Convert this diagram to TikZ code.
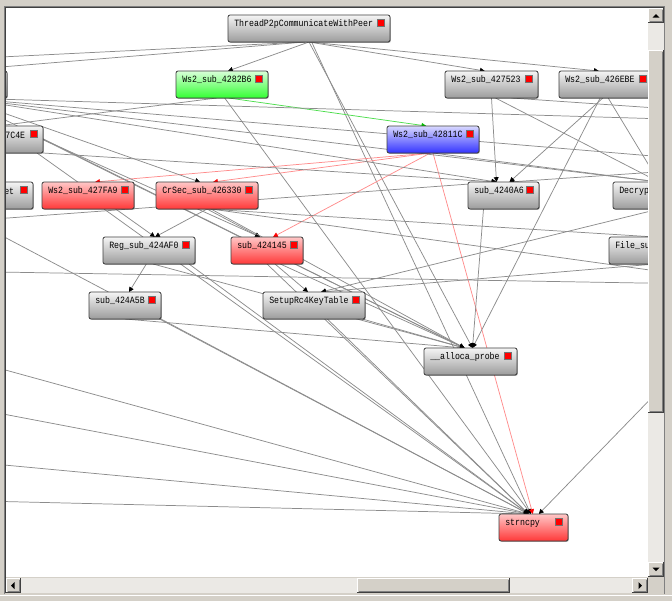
\documentclass[tikz,border=0pt]{standalone}
\usepackage{fontspec}
\newfontfamily\graphfont{Liberation Mono}[FakeStretch=0.86]
\usetikzlibrary{positioning, arrows.meta, calc, shadows}
\definecolor{winface}{HTML}{D4D0C8}
\definecolor{wintrack}{HTML}{EBE9E5}
\definecolor{winshade}{HTML}{808080}
\definecolor{windark}{HTML}{404040}
\definecolor{edgegray}{HTML}{8C8C8C}
\definecolor{edgered}{HTML}{FF8C8C}
\definecolor{edgegreen}{HTML}{4CDD4C}
\definecolor{boxline}{HTML}{404040}

\pgfdeclarelayer{chrome}
\pgfdeclarelayer{edges}
\pgfsetlayers{chrome,edges,main}

\tikzset{
  funcbox/.style={draw=boxline, line width=0.6pt, rounded corners=1.6pt,
    minimum height=20.25pt, inner sep=0pt, outer sep=0pt, anchor=north west,
    drop shadow={shadow xshift=0.6pt, shadow yshift=-0.6pt, fill=black, opacity=0.35}},
  graybox/.style={top color=gray!8, bottom color=gray!78},
  redbox/.style={top color=red!22, bottom color=red!78},
  greenbox/.style={top color=green!15, bottom color=green!80},
  bluebox/.style={top color=blue!15, bottom color=blue!80},
  functext/.style={font=\graphfont\fontsize{7.2}{8}\selectfont, inner sep=0pt, anchor=west},
  redmark/.style={draw=black!55, line width=0.45pt, fill=red, minimum size=5.2pt,
    inner sep=0pt, anchor=north east},
  call/.style={draw=edgegray, line width=0.55pt,
    -{Triangle[width=3.6pt,length=3.6pt,color=black]}},
  redcall/.style={call, draw=edgered, -{Triangle[width=3.6pt,length=3.6pt,color=red]}},
  greencall/.style={call, draw=edgegreen,
    -{Triangle[width=3.6pt,length=3.6pt,color=green!75!black]}},
}

% one function box: name, fill, x, y (top left, px), width (px), label
\newcommand{\funcnode}[6]{%
  \node[funcbox, #2, minimum width=#5*0.75pt] (#1) at (#3,#4) {};
  \node[functext] (#1-txt) at ($(#1.north west)+(6,9)$) {#6};
  \node[redmark] (#1-sq) at ($(#1.north east)+(-5,4)$) {};
}

% raised windows button face
\newcommand{\bevelbox}[4]{%
  \fill[winface] (#1,#2) rectangle (#3,#4);
  \draw[white, line width=0.75pt] (#1+0.5,#4-1) -- (#1+0.5,#2+0.5) -- (#3-1,#2+0.5);
  \draw[windark, line width=0.75pt] (#1,#4-0.5) -- (#3-0.5,#4-0.5) -- (#3-0.5,#2);
  \draw[winshade, line width=0.75pt] (#1+1.5,#4-1.5) -- (#3-1.5,#4-1.5) -- (#3-1.5,#2+1.5);
}

\begin{document}
\begin{tikzpicture}[x=0.75pt, y=-0.75pt]
\useasboundingbox (0,0) rectangle (672,601);

\begin{pgfonlayer}{chrome}
  \fill[winface] (0,0) rectangle (672,601);
  \fill[white] (5,7) rectangle (648,577);
\end{pgfonlayer}

% ---- function boxes
\begin{scope}
  \clip (6,8) rectangle (648,577);
  \funcnode{T}{graybox}{228}{15}{162}{ThreadP2pCommunicateWithPeer}
  \funcnode{LT}{graybox}{-85}{71}{92}{}
  \funcnode{G}{greenbox}{176}{71}{92}{Ws2\_sub\_4282B6}
  \funcnode{W523}{graybox}{445}{71}{93}{Ws2\_sub\_427523}
  \funcnode{WEBE}{graybox}{559}{71}{93}{Ws2\_sub\_426EBE}
  \funcnode{C4E}{graybox}{-49}{126}{92}{}
  \node[functext, anchor=east] (C4E-lbl) at ($(C4E-sq.west)+(-5,1.5)$) {7C4E};
  \funcnode{B}{bluebox}{387}{126}{92}{Ws2\_sub\_42811C}
  \funcnode{ET}{graybox}{-59}{182}{92}{}
  \node[functext, anchor=east] (ET-lbl) at ($(ET-sq.west)+(-6,1.5)$) {et};
  \funcnode{FA9}{redbox}{42}{182}{92}{Ws2\_sub\_427FA9}
  \funcnode{CS}{redbox}{156}{182}{102}{CrSec\_sub\_426330}
  \funcnode{A6}{graybox}{468}{182}{71}{sub\_4240A6}
  \funcnode{DEC}{graybox}{613}{182}{92}{Decryp}
  \funcnode{AF0}{graybox}{103}{237}{92}{Reg\_sub\_424AF0}
  \funcnode{S145}{redbox}{231}{237}{72}{sub\_424145}
  \funcnode{FIL}{graybox}{609}{237}{92}{File\_su}
  \funcnode{A5B}{graybox}{89}{292}{72}{sub\_424A5B}
  \funcnode{RC4}{graybox}{263}{292}{102}{SetupRc4KeyTable}
  \funcnode{AP}{graybox}{424}{348}{93}{\_\_alloca\_probe}
  \funcnode{SN}{redbox}{499}{514}{69}{strncpy}
\end{scope}

% ends of calls to boxes scrolled out of view
\coordinate (l1) at (-60,60);
\coordinate (l2) at (-60,72);
\coordinate (l3) at (-60,203);
\coordinate (l4) at (-60,352);
\coordinate (l5) at (-60,402);
\coordinate (l6) at (-60,459);
\coordinate (l7) at (-60,500);
\coordinate (l8) at (-60,223);
\coordinate (l9) at (-60,271);
\coordinate (r1) at (700,120);
\coordinate (r2) at (700,160);
\coordinate (r3) at (700,111);
\coordinate (r4) at (700,277);
\coordinate (r5) at (700,169);
\coordinate (r6) at (700,348);
\coordinate (r9) at (700,284);

% ---- calls
\begin{pgfonlayer}{edges}
\begin{scope}
  \clip (6,8) rectangle (648,577);
  % ThreadP2pCommunicateWithPeer
  \draw[call] (T.south) -- ([xshift=4.5pt]G.north);
  \draw[call] (T.south) -- ([xshift=-5pt]W523.north);
  \draw[call] (T.south) -- ([xshift=-5pt]WEBE.north);
  \draw[call] ([xshift=-3pt]T.south) -- (l1);
  \draw[call] ([xshift=-3pt]T.south) -- (l2);
  \draw[call] (T.south) -- ([xshift=1.5pt]AP.north);
  \draw[call] ([xshift=2pt]T.south) -- ([xshift=-2pt]SN.north);
  % Ws2_sub_4282B6
  \draw[greencall] ([xshift=5pt]G.south) -- ([xshift=-5pt]B.north);
  \draw[call] ([xshift=-4pt]G.south) -- (C4E.north);
  \draw[call] ([xshift=2pt]G.south) -- ([xshift=-2pt]SN.north);
  % Ws2_sub_42811C
  \draw[redcall] ([xshift=-2pt]B.south) -- ([xshift=5.25pt]FA9.north);
  \draw[redcall] ([xshift=-2pt]B.south) -- ([xshift=4.5pt]CS.north);
  \draw[redcall] ([xshift=-2pt]B.south) -- ([xshift=4.5pt]S145.north);
  \draw[redcall] (B.south) -- ([xshift=-0.5pt]SN.north);
  \draw[call] (B.south) -- (DEC.north);
  % Ws2_sub_427523 and Ws2_sub_426EBE
  \draw[call] (W523.south) -- ([xshift=-5.25pt]A6.north);
  \draw[call] ([xshift=3pt]W523.south) -- (DEC.north);
  \draw[call] ([xshift=15pt]W523.south) -- (r3);
  \draw[call] ([xshift=-2pt]WEBE.south) -- ([xshift=4.5pt]A6.north);
  \draw[call] ([xshift=-4pt]WEBE.south) -- ([xshift=1.5pt]AP.north);
  \draw[call] ([xshift=2pt]WEBE.south) -- (DEC.north);
  \draw[call] (r5) -- ([xshift=4.5pt]A6.north);
  \draw[call] ([xshift=-15pt]A6.south) -- ([xshift=1.5pt]AP.north);
  % boxes on the left
  \draw[call] (LT.south) -- (r1);
  \draw[call] (LT.south) -- (r2);
  \draw[call] (LT.south) -- (DEC.north);
  \draw[call] (LT.south) -- ([xshift=-5.25pt]A6.north);
  \draw[call] (LT.south) -- ([xshift=-5.25pt]CS.north);
  \draw[call] (LT.south) -- ([xshift=-4.5pt]AP.north);
  \draw[call] ([xshift=-4.5pt]C4E.south east) -- ([xshift=4.5pt]AF0.north);
  \draw[call] (C4E.east) -- ([xshift=-4.5pt]AP.north);
  \draw[call] (C4E.south east) -- ([xshift=-5.25pt]A6.north);
  \draw[call] (C4E.east) -- ([xshift=-5.25pt]S145.north);
  \draw[call] (l8) -- ([xshift=-5.25pt]A6.north);
  \draw[call] (l9) -- (r9);
  % CrSec_sub_426330
  \draw[call] (CS.south) -- ([xshift=4.5pt]AF0.north);
  \draw[call] (CS.south) -- ([xshift=-5.25pt]S145.north);
  \draw[call] ([xshift=3pt]CS.south) -- ([xshift=-4.5pt]AP.north);
  \draw[call] (CS.south) -- (FIL.north);
  \draw[call] ([xshift=3pt]CS.south) -- (r4);
  % sub_424145, Decryp, File_su
  \draw[call] ([xshift=6pt]S145.south) -- ([xshift=-4.5pt]RC4.north);
  \draw[call] ([xshift=10pt]S145.south) -- ([xshift=-4.5pt]AP.north);
  \draw[call] (S145.south) -- ([xshift=-3.75pt]SN.north);
  \draw[call] (DEC.south) -- ([xshift=5.25pt]RC4.north);
  \draw[call] (FIL.south) -- ([xshift=5.25pt]RC4.north);
  % SetupRc4KeyTable
  \draw[call] ([xshift=-2pt]RC4.south east) -- ([xshift=-4.5pt]AP.north);
  \draw[call] ([xshift=10pt]RC4.south) -- ([xshift=-3.75pt]SN.north);
  % Reg_sub_424AF0 and sub_424A5B
  \draw[call] ([xshift=-2pt]AF0.south) -- ([xshift=3pt]A5B.north);
  \draw[call] ([xshift=3pt]AF0.south) -- ([xshift=-4.5pt]AP.north);
  \draw[call] ([xshift=30pt]AF0.south) -- ([xshift=-3.75pt]SN.north);
  \draw[call] (A5B.south) -- ([xshift=-4.5pt]AP.north);
  \draw[call] (A5B.south east) -- ([xshift=-3.75pt]SN.north);
  \draw[call] ([xshift=12pt]FA9.south) -- ([xshift=-3.75pt]SN.north);
  % calls into strncpy from outside the view
  \foreach \src in {l3,l4,l5,l6,l7}
    \draw[call] (\src) -- ([xshift=-3.75pt]SN.north);
  \draw[call] (r6) -- ([xshift=4pt]SN.north);
\end{scope}
\end{pgfonlayer}

% ---- window frame and scroll bars
\draw[winshade, line width=0.75pt] (4.5,594) -- (4.5,6.5) -- (665,6.5);
\draw[windark, line width=0.75pt] (5.5,593) -- (5.5,7.5) -- (664,7.5);
\fill[wintrack] (648,23) rectangle (664,562);
\bevelbox{648}{8}{664}{23}
\bevelbox{648}{50}{664}{413}
\bevelbox{648}{562}{664}{577}
\fill[wintrack] (21,578) rectangle (632,593);
\bevelbox{6}{578}{21}{593}
\bevelbox{357}{578}{510}{593}
\bevelbox{632}{578}{648}{593}
\fill[winface] (648,577) rectangle (664,593);
\fill[black] (652.5,17.5) -- (659.5,17.5) -- (656,14) -- cycle;
\fill[black] (652.5,567.5) -- (659.5,567.5) -- (656,571) -- cycle;
\fill[black] (11,585.5) -- (14.5,582) -- (14.5,589) -- cycle;
\fill[black] (642,585.5) -- (638.5,582) -- (638.5,589) -- cycle;
\draw[white, line width=0.75pt] (0,595.5) -- (672,595.5);
\draw[winshade, line width=0.75pt] (664.5,7) -- (664.5,594);
\end{tikzpicture}
\end{document}
